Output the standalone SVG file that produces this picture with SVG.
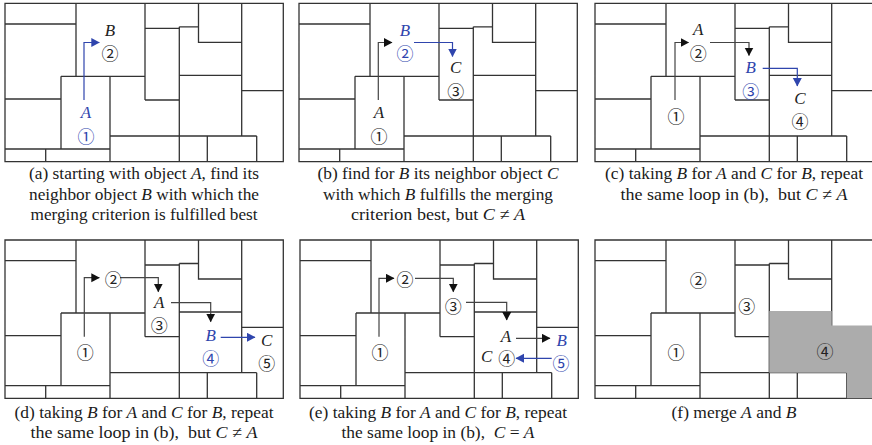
<svg xmlns="http://www.w3.org/2000/svg" xmlns:xlink="http://www.w3.org/1999/xlink" width="872" height="445" viewBox="0 0 872 445">
  <style>
    .grid { fill: none; stroke: #333; stroke-width: 1.3; }
    .merged { fill: #acacac; stroke: none; }
    .lbl { font-family: "Liberation Serif", "Times New Roman", serif; font-style: italic; font-size: 17px; text-anchor: middle; fill: #222; }
    .num { font-family: "Noto Sans CJK JP", "DejaVu Sans", sans-serif; font-size: 17px; text-anchor: middle; dominant-baseline: central; fill: #222; }
    .blue { fill: #2f45ad; }
    .cap { font-family: "Liberation Serif", "Times New Roman", serif; font-size: 16.5px; text-anchor: middle; fill: #1a1a1a; white-space: pre; }
    .cap tspan.i { font-style: italic; }
    .arr { fill: none; stroke: #444; stroke-width: 1.2; marker-end: url(#head); }
    .arr.b { stroke: #2f45ad; marker-end: url(#headBlue); }
  </style>
  <defs>
    <marker id="head" markerUnits="userSpaceOnUse" markerWidth="9" markerHeight="10" refX="8" refY="4.5" orient="auto">
      <path d="M0,0 L8.5,4.5 L0,9 Z" fill="#111"/>
    </marker>
    <marker id="headBlue" markerUnits="userSpaceOnUse" markerWidth="9" markerHeight="10" refX="8" refY="4.5" orient="auto">
      <path d="M0,0 L8.5,4.5 L0,9 Z" fill="#2f45ad"/>
    </marker>
    <!-- region partition shared by all six panels -->
    <path id="partition" class="grid" d="M0,0 H278.3 V158.3 H0 Z
      M0,20.7 H71 M71,0 V73 M56,73 H140 M140,0 V96.7
      M140,25 H174.3 M174.3,23.5 H193.5 M174.3,23.5 V158.3
      M193.5,0 V39 H236.7 M236.7,0 V132.7
      M140,96.7 H174.3 M174.3,72 H236.7 M236.7,87.3 H278.3
      M0,95.7 H56 M56,73 V145.7 M0,145.7 H105 M40.7,145.7 V158.3
      M105,73 V158.3 M105,132.7 H251.7 M202.3,132.7 V158.3 M251.7,132.7 V158.3"/>
  </defs>

  <!-- (a) -->
  <g id="panel-a">
    <use href="#partition" x="5" y="3.3"/>
    <g id="connectors-a">
      <path class="arr b" d="M84,100 V42.5 H99.3"/>
    </g>
    <text class="lbl" x="110" y="35.7">B</text>
    <text class="num" x="110" y="52.7">②</text>
    <text class="lbl blue" x="86" y="118">A</text>
    <text class="num blue" x="86" y="135">①</text>
    <text class="cap" x="144" y="179" textLength="230" lengthAdjust="spacingAndGlyphs">(a) starting with object <tspan class="i">A</tspan>, find its</text>
    <text class="cap" x="144" y="199.5" textLength="230" lengthAdjust="spacingAndGlyphs">neighbor object <tspan class="i">B</tspan> with which the</text>
    <text class="cap" x="144" y="220" textLength="227" lengthAdjust="spacingAndGlyphs">merging criterion is fulfilled best</text>
  </g>

  <!-- (b) -->
  <g id="panel-b">
    <use href="#partition" x="299" y="3.3"/>
    <g id="connectors-b">
      <path class="arr" d="M378.3,100 V42.5 H392"/>
      <path class="arr b" d="M414,42.5 H452.5 V56.5"/>
    </g>
    <text class="lbl blue" x="405" y="35.5">B</text>
    <text class="num blue" x="405" y="52.7">②</text>
    <text class="lbl" x="455.7" y="72.7">C</text>
    <text class="num" x="455.7" y="90">③</text>
    <text class="lbl" x="379" y="118">A</text>
    <text class="num" x="379" y="135">①</text>
    <text class="cap" x="438" y="179" textLength="241" lengthAdjust="spacingAndGlyphs">(b) find for <tspan class="i">B</tspan> its neighbor object <tspan class="i">C</tspan></text>
    <text class="cap" x="438" y="199.5" textLength="230" lengthAdjust="spacingAndGlyphs">with which <tspan class="i">B</tspan> fulfills the merging</text>
    <text class="cap" x="438" y="220" textLength="174" lengthAdjust="spacingAndGlyphs">criterion best, but <tspan class="i">C</tspan> ≠ <tspan class="i">A</tspan></text>
  </g>

  <!-- (c) -->
  <g id="panel-c">
    <use href="#partition" x="595" y="3.3"/>
    <g id="connectors-c">
      <path class="arr" d="M675,100 V42.5 H688.5"/>
      <path class="arr" d="M710,42.5 H749 V55.5"/>
      <path class="arr b" d="M762.7,68.3 H797.3 V86"/>
    </g>
    <text class="lbl" x="698.3" y="35.3">A</text>
    <text class="num" x="698.3" y="52.7">②</text>
    <text class="lbl blue" x="750.7" y="72.7">B</text>
    <text class="num blue" x="750.7" y="90">③</text>
    <text class="lbl" x="800" y="104">C</text>
    <text class="num" x="800" y="120">④</text>
    <text class="num" x="676" y="115">①</text>
    <text class="cap" x="734" y="179" textLength="258" lengthAdjust="spacingAndGlyphs">(c) taking <tspan class="i">B</tspan> for <tspan class="i">A</tspan> and <tspan class="i">C</tspan> for <tspan class="i">B</tspan>, repeat</text>
    <text class="cap" x="734" y="199.5" textLength="227" lengthAdjust="spacingAndGlyphs">the same loop in (b),  but <tspan class="i">C</tspan> ≠ <tspan class="i">A</tspan></text>
  </g>

  <!-- (d) -->
  <g id="panel-d">
    <use href="#partition" x="5" y="240"/>
    <g id="connectors-d">
      <path class="arr" d="M84.3,336.7 V277.7 H99.3"/>
      <path class="arr" d="M120,277.7 H158.3 V291.7"/>
      <path class="arr" d="M171,302.7 H210.7 V321.7"/>
      <path class="arr b" d="M220.7,337.3 H255"/>
    </g>
    <text class="num" x="113.3" y="278.3">②</text>
    <text class="lbl" x="159.3" y="308.3">A</text>
    <text class="num" x="159.3" y="324.3">③</text>
    <text class="lbl blue" x="210.7" y="341">B</text>
    <text class="num blue" x="210.7" y="357">④</text>
    <text class="lbl" x="266.7" y="345.7">C</text>
    <text class="num" x="266.7" y="362">⑤</text>
    <text class="num" x="85.3" y="351.7">①</text>
    <text class="cap" x="144" y="417.5" textLength="259" lengthAdjust="spacingAndGlyphs">(d) taking <tspan class="i">B</tspan> for <tspan class="i">A</tspan> and <tspan class="i">C</tspan> for <tspan class="i">B</tspan>, repeat</text>
    <text class="cap" x="144" y="438" textLength="227" lengthAdjust="spacingAndGlyphs">the same loop in (b),  but <tspan class="i">C</tspan> ≠ <tspan class="i">A</tspan></text>
  </g>

  <!-- (e) -->
  <g id="panel-e">
    <use href="#partition" x="300" y="240"/>
    <g id="connectors-e">
      <path class="arr" d="M379,336.7 V278.3 H394"/>
      <path class="arr" d="M415,278.3 H453.3 V291.7"/>
      <path class="arr" d="M466,302.3 H506.7 V320"/>
      <path class="arr" d="M516,338.3 H550"/>
      <path class="arr b" d="M551.7,358.3 H516"/>
    </g>
    <text class="num" x="405" y="278.3">②</text>
    <text class="num" x="453.3" y="305">③</text>
    <text class="lbl" x="506" y="342.3">A</text>
    <text class="lbl blue" x="561.7" y="345.5">B</text>
    <text class="lbl" x="486.7" y="362.3">C</text>
    <text class="num" x="506.7" y="357.7">④</text>
    <text class="num blue" x="561" y="362">⑤</text>
    <text class="num" x="380" y="351.7">①</text>
    <text class="cap" x="438" y="417.5" textLength="258" lengthAdjust="spacingAndGlyphs">(e) taking <tspan class="i">B</tspan> for <tspan class="i">A</tspan> and <tspan class="i">C</tspan> for <tspan class="i">B</tspan>, repeat</text>
    <text class="cap" x="438" y="438" textLength="193" lengthAdjust="spacingAndGlyphs">the same loop in (b),  <tspan class="i">C</tspan> = <tspan class="i">A</tspan></text>
  </g>

  <!-- (f) -->
  <g id="panel-f">
    <use href="#partition" x="595" y="240"/>
    <!-- merged region A+B -->
    <path class="merged" d="M769.3,311 H831.7 V325.5 H873.3 V398.3 H846.7 V372.7 H769.3 Z"/>
    <text class="num" x="698.3" y="279">②</text>
    <text class="num" x="746.7" y="305">③</text>
    <text class="num" x="676" y="351.7">①</text>
    <text class="num" x="825" y="350">④</text>
    <text class="cap" x="734" y="418" textLength="125" lengthAdjust="spacingAndGlyphs">(f) merge <tspan class="i">A</tspan> and <tspan class="i">B</tspan></text>
  </g>
</svg>
